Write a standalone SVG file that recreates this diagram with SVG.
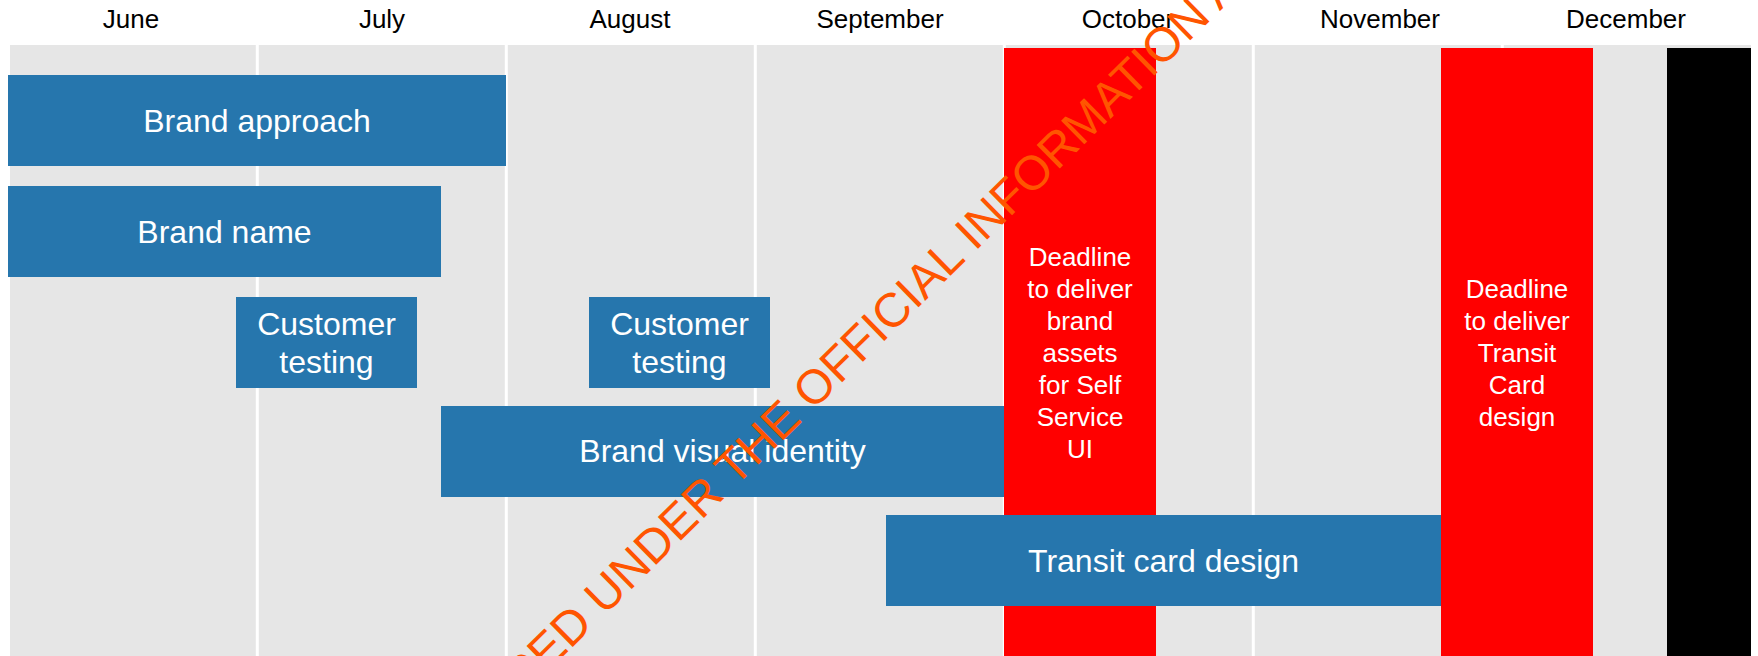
<svg xmlns="http://www.w3.org/2000/svg" width="1758" height="656" viewBox="0 0 1758 656">
<style>
.month{font-family:"Liberation Sans",Arial,sans-serif;font-size:26px;fill:#000;text-anchor:middle}
.bar{fill:#2676AD}
.bl{font-family:"Liberation Sans",Arial,sans-serif;font-size:32px;fill:#fff;text-anchor:middle}
.dl{font-family:"Liberation Sans",Arial,sans-serif;font-size:26px;fill:#fff;text-anchor:middle}
.div{stroke:#fff;stroke-width:3}
.wm{font-family:"Liberation Sans",Arial,sans-serif;font-size:48px;fill:#FF5500}
</style>
<rect width="1758" height="656" fill="#fff"/>
<g id="grid">
<rect x="10" y="45" width="1741" height="611" fill="#E6E6E6"/>
<line class="div" x1="257.3" y1="45" x2="257.3" y2="656"/>
<line class="div" x1="506.3" y1="45" x2="506.3" y2="656"/>
<line class="div" x1="755.3" y1="45" x2="755.3" y2="656"/>
<line class="div" x1="1004.3" y1="45" x2="1004.3" y2="656"/>
<line class="div" x1="1253.3" y1="45" x2="1253.3" y2="656"/>
<line class="div" x1="1502.3" y1="45" x2="1502.3" y2="656"/>
</g>
<g id="months">
<text class="month" x="131" y="28">June</text>
<text class="month" x="382" y="28">July</text>
<text class="month" x="630" y="28">August</text>
<text class="month" x="880" y="28">September</text>
<text class="month" x="1128" y="28">October</text>
<text class="month" x="1380" y="28">November</text>
<text class="month" x="1626" y="28">December</text>
</g>
<g id="deadline-self-service">
<rect x="1004" y="48" width="152" height="608" fill="#FF0000"/>
<text class="dl" x="1080" y="266">Deadline</text>
<text class="dl" x="1080" y="298">to deliver</text>
<text class="dl" x="1080" y="330">brand</text>
<text class="dl" x="1080" y="362">assets</text>
<text class="dl" x="1080" y="394">for Self</text>
<text class="dl" x="1080" y="426">Service</text>
<text class="dl" x="1080" y="458">UI</text>
</g>
<g id="deadline-transit">
<rect x="1441" y="48" width="152" height="608" fill="#FF0000"/>
<text class="dl" x="1517" y="298">Deadline</text>
<text class="dl" x="1517" y="330">to deliver</text>
<text class="dl" x="1517" y="362">Transit</text>
<text class="dl" x="1517" y="394">Card</text>
<text class="dl" x="1517" y="426">design</text>
</g>
<g id="end-marker">
<rect x="1667" y="48" width="84" height="608" fill="#000"/>
</g>
<g id="brand-approach">
<rect class="bar" x="8" y="75" width="498" height="91"/>
<text class="bl" x="257" y="132">Brand approach</text>
</g>
<g id="brand-name">
<rect class="bar" x="8" y="186" width="433" height="91"/>
<text class="bl" x="224.5" y="243">Brand name</text>
</g>
<g id="customer-testing-1">
<rect class="bar" x="236" y="297" width="181" height="91"/>
<text class="bl" x="326.5" y="335">Customer</text>
<text class="bl" x="326.5" y="373">testing</text>
</g>
<g id="customer-testing-2">
<rect class="bar" x="589" y="297" width="181" height="91"/>
<text class="bl" x="679.5" y="335">Customer</text>
<text class="bl" x="679.5" y="373">testing</text>
</g>
<g id="brand-visual-identity">
<rect class="bar" x="441" y="406" width="563" height="91"/>
<text class="bl" x="722.5" y="462">Brand visual identity</text>
</g>
<g id="transit-card-design">
<rect class="bar" x="886" y="515" width="555" height="91"/>
<text class="bl" x="1163.5" y="572">Transit card design</text>
</g>
<g id="connectors"/>
<g id="watermark">
<text class="wm" x="412" y="805" transform="rotate(-44.5 412 805)">RELEASED UNDER THE OFFICIAL INFORMATION ACT</text>
</g>
</svg>
